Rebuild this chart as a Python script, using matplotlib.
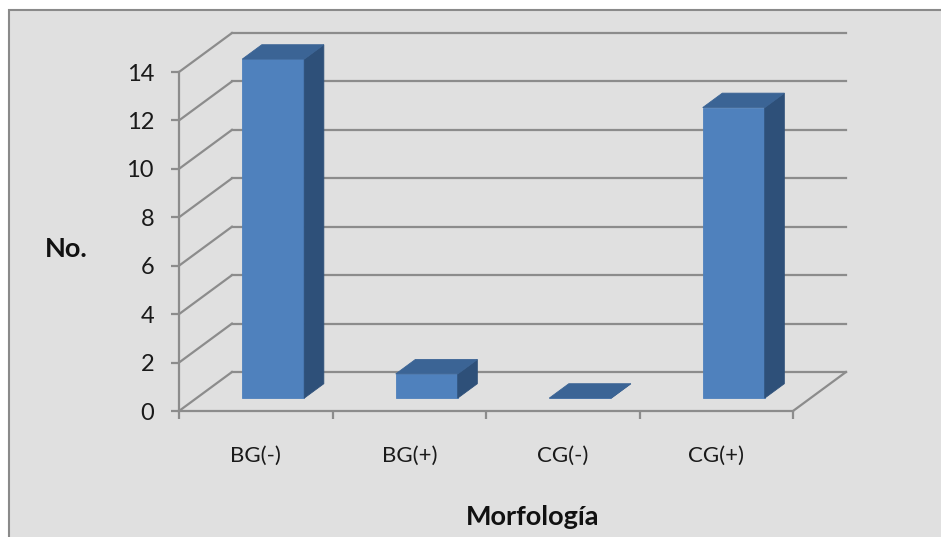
import matplotlib
matplotlib.use("Agg")
import matplotlib.pyplot as plt
from matplotlib.patches import Polygon, Rectangle

plt.rcParams['font.family'] = ['Lato', 'DejaVu Sans']

categorias = ['BG(-)', 'BG(+)', 'CG(-)', 'CG(+)']
valores = [14, 1, 0, 12]
yticks = [0, 2, 4, 6, 8, 10, 12, 14]

W, H = 941, 537
fig = plt.figure(figsize=(W / 100, H / 100), dpi=100)
fig.patch.set_facecolor('white')

# chart area with border (runs off the right/bottom edge)
fig.add_artist(Rectangle((9 / W, -0.05), 1.0, 1 - 10 / H + 0.05,
                         transform=fig.transFigure, facecolor='#e0e0e0',
                         edgecolor='#8a8a8a', linewidth=1.5, zorder=0))

# front plot box in pixels: x 179..793, y 411..72
ax = fig.add_axes([179 / W, (H - 411) / H, 614 / W, 339 / H])
ax.set_xlim(0, 4)
ax.set_ylim(0, 14)
ax.patch.set_visible(False)

# depth offset of the back wall (category units, value units)
DX, DY = 0.345, 1.61
gcol = '#8c8c8c'


def proj(x, y, d):
    return (x + d * DX, y + d * DY)


# back wall gridlines and wall/floor diagonals
for v in yticks:
    ax.plot([0, DX], [v, v + DY], color=gcol, lw=1.6, clip_on=False, zorder=1)
    ax.plot([DX, 4 + DX], [v + DY, v + DY], color=gcol, lw=1.6, clip_on=False, zorder=1)
ax.plot([4, 4 + DX], [0, DY], color=gcol, lw=1.6, clip_on=False, zorder=1)

# 3D columns
front_c, side_c, top_c = '#4f81bd', '#2e5079', '#3b6495'
w, d0, d1 = 0.202, 0.33, 0.70
for i, v in enumerate(valores):
    c = i + 0.5
    front = [proj(c - w, 0, d0), proj(c + w, 0, d0), proj(c + w, v, d0), proj(c - w, v, d0)]
    side = [proj(c + w, 0, d0), proj(c + w, 0, d1), proj(c + w, v, d1), proj(c + w, v, d0)]
    top = [proj(c - w, v, d0), proj(c + w, v, d0), proj(c + w, v, d1), proj(c - w, v, d1)]
    for pts, col in [(front, front_c), (side, side_c), (top, top_c)]:
        ax.add_patch(Polygon(pts, closed=True, facecolor=col, edgecolor=col,
                             linewidth=0.6, clip_on=False, zorder=3))

# front axes
for s in ['top', 'right']:
    ax.spines[s].set_visible(False)
for s in ['left', 'bottom']:
    ax.spines[s].set_color(gcol)
    ax.spines[s].set_linewidth(1.6)
    ax.spines[s].set_zorder(2)

ax.set_yticks(yticks)
ax.set_yticklabels([str(t) for t in yticks])
ax.tick_params(axis='y', direction='out', length=6, width=1.6, color=gcol,
               labelsize=17, labelcolor='#1a1a1a', pad=12)

ax.set_xticks([0, 1, 2, 3, 4])
ax.set_xticklabels([])
ax.set_xticks([i + 0.5 for i in range(len(categorias))], minor=True)
ax.set_xticklabels(categorias, minor=True)
ax.tick_params(axis='x', which='major', direction='out', length=6, width=1.6, color=gcol)
ax.tick_params(axis='x', which='minor', length=0, labelsize=16,
               labelcolor='#1a1a1a', pad=25)

fig.text(66 / W, 1 - 249 / H, 'No.', fontsize=19.5, fontweight='bold',
         ha='center', va='center', color='#111111')
fig.text(533 / W, 1 - 517 / H, 'Morfología', fontsize=19.5, fontweight='bold',
         ha='center', va='center', color='#111111')

fig.savefig('out.png', dpi=100)
